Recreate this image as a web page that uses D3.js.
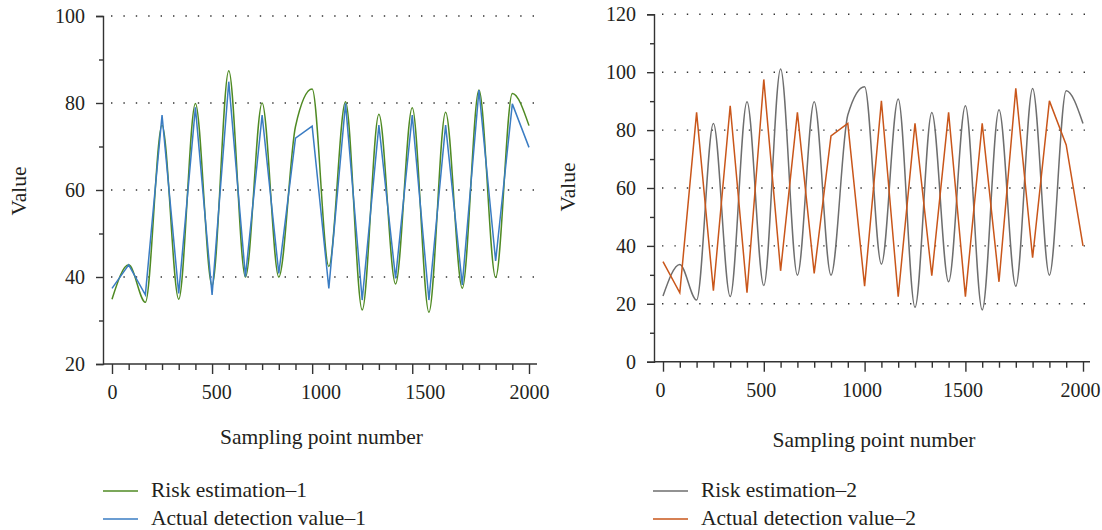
<!DOCTYPE html>
<html>
<head>
<meta charset="utf-8">
<script src="https://cdn.jsdelivr.net/npm/d3@7"></script>
<style>
  body { margin: 0; background: #fff; }
  svg { display: block; font-family: "Liberation Serif", "DejaVu Serif", serif; }
</style>
</head>
<body>
<svg width="1102" height="530"></svg>
<script>
'use strict';

const serif = "'Liberation Serif', 'DejaVu Serif', serif";

// sampling points (x) shared by both panels
const samples = [0, 80, 160, 240, 320, 400, 480, 560, 640, 720, 800, 880, 960,
  1040, 1120, 1200, 1280, 1360, 1440, 1520, 1600, 1680, 1760, 1840, 1920, 2000];
const majorSamples = [0, 480, 960, 1440, 2000];
const xTickLabels = ["0", "500", "1000", "1500", "2000"];

// panel 1
const risk1 = [34.9, 42.8, 34.2, 74.9, 34.9, 79.9, 38.0, 87.4, 40.0, 80.0, 40.0, 74.6, 83.2,
  42.4, 80.3, 32.4, 77.4, 38.4, 78.9, 31.9, 77.9, 37.4, 83.0, 39.9, 82.2, 74.8];
const actual1 = [37.4, 42.8, 35.9, 77.2, 36.2, 79.0, 35.9, 84.9, 40.1, 77.2, 40.8, 71.9, 74.7,
  37.4, 79.9, 34.7, 74.9, 39.7, 77.2, 34.7, 74.9, 38.2, 83.0, 43.7, 79.8, 69.8];

// panel 2
const risk2 = [22.7, 33.6, 21.3, 82.3, 22.5, 89.8, 26.3, 101.1, 29.9, 89.8, 29.9, 85.2, 95.0,
  33.7, 90.7, 18.8, 86.1, 27.6, 88.4, 17.9, 87.0, 26.1, 94.4, 29.9, 93.6, 82.3];
const actual2 = [34.6, 23.8, 86.1, 24.5, 88.4, 23.8, 97.5, 31.4, 86.1, 30.5, 78.0, 82.3, 26.1,
  90.1, 22.5, 82.3, 29.7, 86.1, 22.5, 82.3, 27.6, 94.4, 35.9, 90.1, 74.9, 40.0];

const svg = d3.select("svg");

function panel(o) {
  let g = svg.append("g");
  let x = d3.scaleLinear().domain([0, 2000]).range(o.xRange);
  let y = d3.scaleLinear().domain(o.yDomain).range(o.yRange);

  // dotted grid
  g.append("g")
    .selectAll("line")
    .data(o.grid)
    .join("line")
      .attr("x1", o.axisX + 8).attr("x2", o.axisEnd)
      .attr("y1", d => y(d)).attr("y2", d => y(d))
      .attr("stroke", "#333")
      .attr("stroke-width", 1.4)
      .attr("stroke-dasharray", "1.4,11");

  // y axis
  let ya = g.append("g")
    .attr("transform", `translate(${o.axisX},0)`)
    .call(d3.axisLeft(y).tickValues(o.yTicks)
      .tickFormat(d => o.yLabels.includes(d) ? d : "")
      .tickSizeOuter(0).tickSize(7).tickPadding(11))
    .attr("font-family", serif).attr("font-size", 20);
  ya.selectAll(".tick line")
    .attr("x2", d => o.yLabels.includes(d) ? -7 : -4);
  ya.selectAll("path, line").attr("stroke", "#333").attr("stroke-width", 1.4);
  ya.selectAll("text").attr("fill", "#231f20");

  // x axis ticks
  let xa = g.append("g")
    .attr("transform", `translate(0,${o.yRange[0]})`)
    .call(d3.axisBottom(x).tickValues(samples).tickFormat("").tickSizeOuter(0));
  xa.select(".domain").remove();
  xa.selectAll(".tick line")
    .attr("y2", d => majorSamples.includes(d) ? 10 : 6)
    .attr("stroke", "#333").attr("stroke-width", 1.4);
  g.append("line")
    .attr("x1", o.axisX).attr("x2", o.axisEnd)
    .attr("y1", o.yRange[0]).attr("y2", o.yRange[0])
    .attr("stroke", "#333").attr("stroke-width", 1.4);

  // x tick labels
  let xl = g.append("g")
    .attr("transform", `translate(${o.labelDx},${o.yRange[0]})`)
    .call(d3.axisBottom(x).tickValues(o.labelAt)
      .tickFormat((d, i) => xTickLabels[i]).tickSize(0).tickPadding(21))
    .attr("font-family", serif).attr("font-size", 20);
  xl.select(".domain").remove();
  xl.selectAll("text").attr("fill", "#231f20");

  // titles
  g.append("text")
    .attr("transform", `translate(${o.valueX},${o.valueY}) rotate(-90)`)
    .attr("text-anchor", "middle")
    .attr("font-size", 21.5).attr("fill", "#231f20")
    .text("Value");
  g.append("text")
    .attr("x", (o.xRange[0] + o.xRange[1]) / 2 + 1).attr("y", o.titleY)
    .attr("text-anchor", "middle")
    .attr("font-size", 21.5).attr("fill", "#231f20")
    .text("Sampling point number");

  // series
  let smooth = d3.line().x((d, i) => x(samples[i])).y(d => y(d)).curve(d3.curveMonotoneX);
  let straight = d3.line().x((d, i) => x(samples[i])).y(d => y(d));

  g.append("path").datum(o.est)
    .attr("d", smooth)
    .attr("fill", "none").attr("stroke", o.estColor).attr("stroke-width", 1.5);
  g.append("path").datum(o.act)
    .attr("d", straight)
    .attr("fill", "none").attr("stroke", o.actColor).attr("stroke-width", 1.5);

  // legend
  let leg = g.append("g")
    .selectAll("g")
    .data([[o.estName, o.estColor], [o.actName, o.actColor]])
    .join("g")
      .attr("transform", (d, i) => `translate(${o.legX},${491 + i * 28})`);
  leg.append("line")
    .attr("x1", 0).attr("x2", 35)
    .attr("stroke", d => d[1]).attr("stroke-width", 1.5);
  leg.append("text")
    .attr("x", 48).attr("y", 6)
    .attr("font-size", 21.5).attr("fill", "#231f20")
    .text(d => d[0]);
}

panel({
  xRange: [112, 529], axisX: 103, axisEnd: 537,
  yDomain: [20, 100], yRange: [364, 16],
  yTicks: [20, 30, 40, 50, 60, 70, 80, 90, 100], yLabels: [20, 40, 60, 80, 100],
  grid: [40, 60, 80, 100],
  labelAt: [0, 500, 1000, 1500, 2000], labelDx: 0,
  valueX: 26, valueY: 191, titleY: 444,
  est: risk1, act: actual1,
  estColor: "#4f8a23", actColor: "#3a7cc3",
  estName: "Risk estimation\u20131", actName: "Actual detection value\u20131",
  legX: 103
});

panel({
  xRange: [663, 1083], axisX: 654, axisEnd: 1090,
  yDomain: [0, 120], yRange: [361.7, 14.3],
  yTicks: [0, 10, 20, 30, 40, 50, 60, 70, 80, 90, 100, 110, 120], yLabels: [0, 20, 40, 60, 80, 100, 120],
  grid: [20, 40, 60, 80, 100, 120],
  labelAt: majorSamples, labelDx: -3,
  valueX: 575, valueY: 187, titleY: 447,
  est: risk2, act: actual2,
  estColor: "#6e6e6e", actColor: "#c9561a",
  estName: "Risk estimation\u20132", actName: "Actual detection value\u20132",
  legX: 653
});
</script>
</body>
</html>
